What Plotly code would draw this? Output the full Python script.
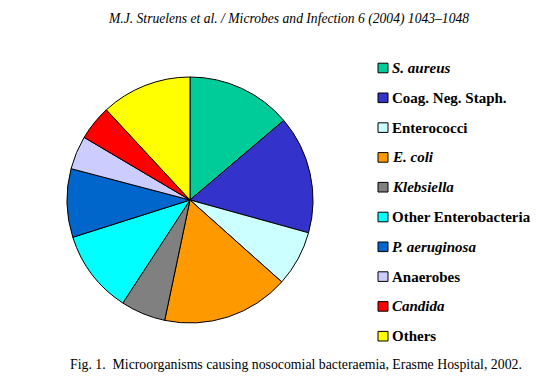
import plotly.graph_objects as go

labels = ["S. aureus", "Coag. Neg. Staph.", "Enterococci", "E. coli", "Klebsiella",
          "Other Enterobacteria", "P. aeruginosa", "Anaerobes", "Candida", "Others"]
italic = [True, False, False, True, True, False, True, False, True, False]
values = [13.8, 15.5, 7.3, 16.7, 5.9, 10.9, 9.0, 4.4, 4.6, 11.9]
colors = ["#00CC99", "#3333CC", "#CCFFFF", "#FF9900", "#808080",
          "#00FFFF", "#0066CC", "#CCCCFF", "#FF0000", "#FFFF00"]

header = "M.J. Struelens et al. / Microbes and Infection 6 (2004) 1043\u20131048"
caption = "Fig. 1.  Microorganisms causing nosocomial bacteraemia, Erasme Hospital, 2002."

W, H = 536, 379
cx, cy, r = 190, 200, 123

fig = go.Figure(go.Pie(
    labels=labels, values=values, sort=False, direction="clockwise", rotation=0,
    marker=dict(colors=colors, line=dict(color="black", width=1)),
    textinfo="none", hoverinfo="label+percent", showlegend=False,
    domain=dict(x=[(cx - r) / W, (cx + r) / W], y=[(H - cy - r) / H, (H - cy + r) / H]),
))

ann = []
shapes = []
font = "Liberation Serif, Times New Roman, serif"
for i, (lab, it, col) in enumerate(zip(labels, italic, colors)):
    yc = 68 + i * 29.8
    txt = f"<b><i>{lab}</i></b>" if it else f"<b>{lab}</b>"
    ann.append(dict(x=390 / W, y=1 - yc / H, xref="paper", yref="paper", text=txt,
                    showarrow=False, xanchor="left", yanchor="middle",
                    font=dict(family=font, size=15, color="black")))
    shapes.append(dict(type="rect", xref="paper", yref="paper",
                       x0=378 / W, x1=388 / W, y0=1 - (yc + 4.8) / H, y1=1 - (yc - 4.8) / H,
                       fillcolor=col, line=dict(color="black", width=1)))

ann.append(dict(x=288 / W, y=1 - 19 / H, xref="paper", yref="paper",
                text=f"<i>{header}</i>", showarrow=False, xanchor="center", yanchor="middle",
                font=dict(family=font, size=13.6, color="black")))
ann.append(dict(x=296 / W, y=1 - 364 / H, xref="paper", yref="paper",
                text=caption, showarrow=False, xanchor="center", yanchor="middle",
                font=dict(family=font, size=13.8, color="black")))

fig.update_layout(width=W, height=H, margin=dict(l=0, r=0, t=0, b=0),
                  paper_bgcolor="white", plot_bgcolor="white",
                  annotations=ann, shapes=shapes)
fig.write_html("out.html", config={"displayModeBar": False},
               post_script="document.body.style.margin='0';")
